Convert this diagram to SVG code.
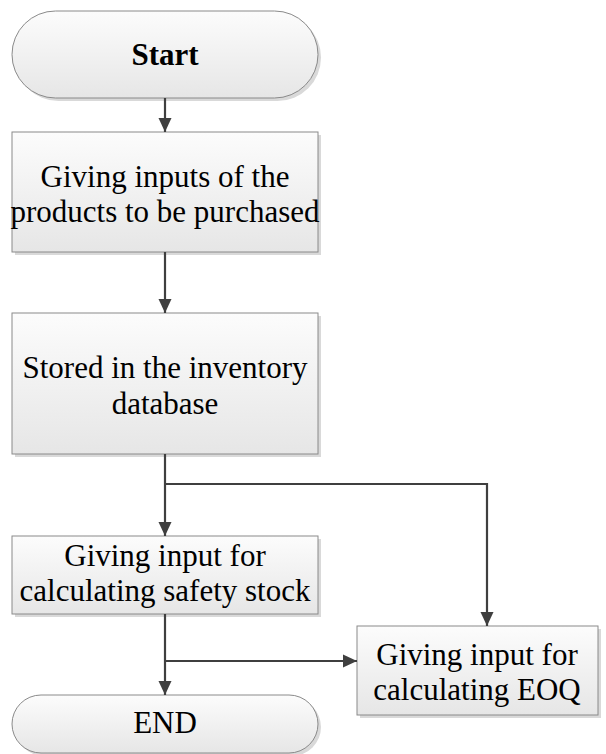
<svg xmlns="http://www.w3.org/2000/svg" width="606" height="754" viewBox="0 0 606 754">
<defs>
<linearGradient id="g" x1="0" y1="0" x2="0" y2="1">
<stop offset="0" stop-color="#fcfcfc"/>
<stop offset="1" stop-color="#e6e6e6"/>
</linearGradient>
<marker id="ah" viewBox="0 0 14 14" refX="14" refY="7" markerWidth="14" markerHeight="14" markerUnits="userSpaceOnUse" orient="auto">
<path d="M0,0.5 L14,7 L0,13.5 Z" fill="#3f3f3f"/>
</marker>
<style>
.sh{fill:#d9d9d9}
.nd{fill:url(#g);stroke:#8a8a8a;stroke-width:1}
.t{font-family:"Liberation Serif","Times New Roman",serif;font-size:31px;fill:#000;text-anchor:middle}
.b{font-weight:bold}
.c{fill:none;stroke:#3f3f3f;stroke-width:2.2;marker-end:url(#ah)}
</style>
</defs>
<rect width="606" height="754" fill="#fff"/>
<g id="start">
<rect class="sh" x="15" y="14" width="306" height="87" rx="43.5"/>
<rect class="nd" x="12" y="11" width="306" height="87" rx="43.5"/>
<text class="t b" x="165" y="65">Start</text>
</g>
<g id="inputs">
<rect class="sh" x="15" y="135" width="306" height="120"/>
<rect class="nd" x="12" y="132" width="306" height="120"/>
<text class="t" x="165" y="187">Giving inputs of the</text>
<text class="t" x="165" y="222">products to be purchased</text>
</g>
<g id="stored">
<rect class="sh" x="15" y="316" width="306" height="141"/>
<rect class="nd" x="12" y="313" width="306" height="141"/>
<text class="t" x="165" y="378">Stored in the inventory</text>
<text class="t" x="165" y="414">database</text>
</g>
<g id="safety">
<rect class="sh" x="15" y="539" width="306" height="78"/>
<rect class="nd" x="12" y="536" width="306" height="78"/>
<text class="t" x="165" y="566">Giving input for</text>
<text class="t" x="165" y="601">calculating safety stock</text>
</g>
<g id="eoq">
<rect class="sh" x="360" y="629" width="241" height="89"/>
<rect class="nd" x="357" y="626" width="241" height="89"/>
<text class="t" x="477" y="665">Giving input for</text>
<text class="t" x="477" y="700">calculating EOQ</text>
</g>
<g id="end">
<rect class="sh" x="15" y="698" width="306" height="58" rx="29"/>
<rect class="nd" x="12" y="695" width="306" height="58" rx="29"/>
<text class="t" x="165" y="733">END</text>
</g>
<g id="connectors">
<path class="c" d="M165,98 V132"/>
<path class="c" d="M165,252 V313"/>
<path class="c" d="M165,454 V536"/>
<path class="c" d="M165,484 H487 V626"/>
<path class="c" d="M165,614 V695"/>
<path class="c" d="M165,661 H357"/>
</g>
</svg>
